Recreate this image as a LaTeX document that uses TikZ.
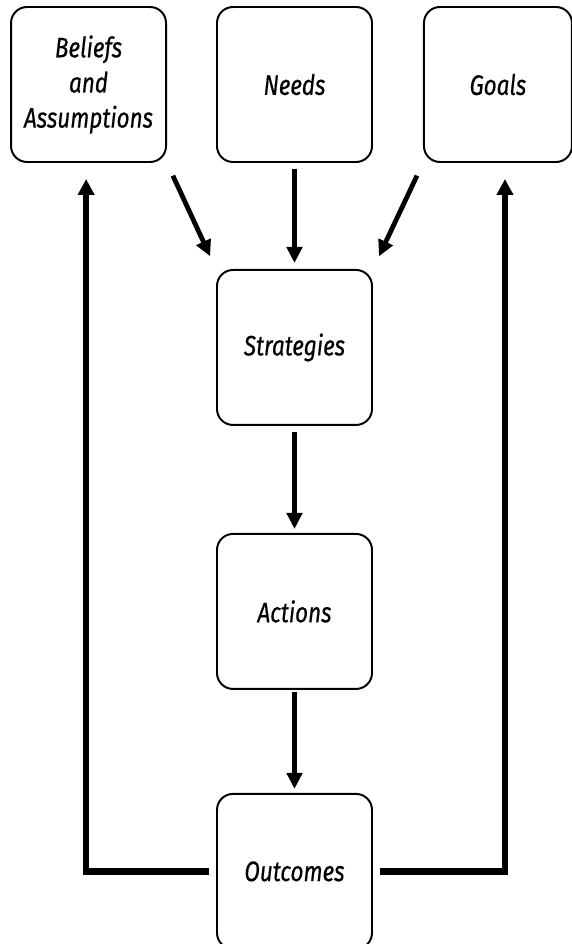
\documentclass[tikz,border=0pt]{standalone}
\usepackage{fontspec}
\newfontfamily\handfont[FakeStretch=0.8, FakeBold=0.5]{Fira Sans Italic}
\usepackage{tikz}
\usetikzlibrary{positioning, arrows.meta}
\tikzset{
    box/.style={draw, line width=1.4pt, rounded corners=0.4cm, minimum width=3.875cm, minimum height=3.875cm, align=center, font=\handfont\fontsize{20}{25}\selectfont}, % every box in the loop
    flow/.style={-{Triangle[length=0.4cm, width=0.38cm]}, line width=3.4pt}, % short arrows between boxes
    feedback/.style={-{Triangle[length=0.4cm, width=0.4cm]}, line width=4.4pt}, % thick arrows going back up
}

\begin{document}
\begin{tikzpicture}
    \useasboundingbox (0,0) rectangle (14.275,-23.6);
    \node[box] (needs) at (7.3625,-2.1125) {Needs};
    \node[box, left=1.225cm of needs] (beliefs) {Beliefs\\and\\Assumptions};
    \node[box, right=1.25cm of needs, minimum width=3.7cm] (goals) {Goals};
    \node[box, below=2.65cm of needs] (strategies) {Strategies};
    \node[box, below=2.675cm of strategies] (actions) {Actions};
    \node[box, below=2.575cm of actions] (outcomes) {Outcomes};
    \draw[flow, shorten <=0.35cm, shorten >=0.35cm] (beliefs.south east) -- (strategies.north west);
    \draw[flow, shorten <=0.35cm, shorten >=0.35cm] (goals.south west) -- (strategies.north east);
    \draw[flow, shorten <=0.15cm, shorten >=0.15cm] (needs) -- (strategies);
    \draw[flow, shorten <=0.15cm, shorten >=0.1cm] (strategies) -- (actions);
    \draw[flow, shorten <=0.05cm, shorten >=0.1cm] (actions) -- (outcomes);
    \draw[feedback, shorten <=0.175cm, shorten >=0.4cm] (outcomes.west) -| ([xshift=-0.06cm]beliefs.south);
    \draw[feedback, shorten <=0.175cm, shorten >=0.4cm] (outcomes.east) -| ([xshift=0.175cm]goals.south);
\end{tikzpicture}
\end{document}
